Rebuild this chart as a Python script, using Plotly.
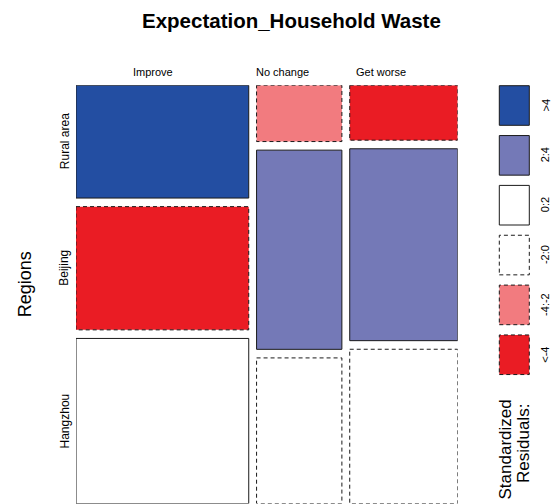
import numpy as np
import plotly.graph_objects as go

# Contingency table: expectation about household waste by region
regions = ["Rural area", "Beijing", "Hangzhou"]
expectations = ["Improve", "No change", "Get worse"]
rural_counts = [345, 85, 105]
beijing_counts = [377, 301, 367]
hangzhou_counts = [505, 220, 295]

legend_labels = [">4", "2:4", "0:2", "-2:0", "-4:-2", "<-4"]

W, H = 555, 504
FONT = "Liberation Sans, Arial, sans-serif"

table = np.array([rural_counts, beijing_counts, hangzhou_counts], dtype=float)
n_total = table.sum()
row_tot = table.sum(axis=1)
col_tot = table.sum(axis=0)
expected = np.outer(row_tot, col_tot) / n_total
resid = (table - expected) / np.sqrt(expected)  # Pearson residuals

# shading classes, ordered as in the legend (>4 ... <-4)
fills = ["#234EA2", "#7479B7", "#FFFFFF", "#FFFFFF", "#F27B7F", "#EA1C24"]
dashes = ["solid", "solid", "solid", "4px,3px", "4px,3px", "4px,3px"]


def shade_class(r):
    if r > 4:
        return 0
    if r > 2:
        return 1
    if r >= 0:
        return 2
    if r > -2:
        return 3
    if r > -4:
        return 4
    return 5


gap = 0.0214  # spacing between tiles, in units of the full extent
x_span = 1 + gap * (len(expectations) - 1)
y_span = 1 + gap * (len(regions) - 1)

# plot region in pixels
px_left, px_right = 76, 457.7
px_top, px_bottom = 85.3, 503.5

fig = go.Figure()
shapes = []
annotations = []

col_share = col_tot / n_total
x_start = np.concatenate([[0], np.cumsum(col_share)[:-1]]) + gap * np.arange(len(expectations))
for j in range(len(expectations)):
    x0 = x_start[j]
    x1 = x0 + col_share[j]
    row_share = table[:, j] / col_tot[j]
    y_start = np.concatenate([[0], np.cumsum(row_share)[:-1]]) + gap * np.arange(len(regions))
    for i in range(len(regions)):
        y0 = y_start[i]
        y1 = y0 + row_share[i]
        k = shade_class(resid[i, j])
        shapes.append(dict(
            type="rect", xref="x", yref="y", x0=x0, x1=x1, y0=y0, y1=y1,
            fillcolor=fills[k], line=dict(color="#1a1a1a", width=1, dash=dashes[k]),
            layer="above",
        ))

# invisible trace so the axes exist
fig.add_trace(go.Scatter(x=[0, x_span], y=[0, y_span], mode="markers",
                         marker=dict(opacity=0), hoverinfo="skip", showlegend=False))

# column labels along the top
col_label_shift = [-9, -17, -23]
for j, name in enumerate(expectations):
    xc = x_start[j] + col_share[j] / 2
    annotations.append(dict(
        x=xc, xref="x", y=(H - 71.5) / H, yref="paper", text=name, showarrow=False,
        xshift=col_label_shift[j], font=dict(family=FONT, size=11, color="#000000"),
        xanchor="center", yanchor="middle",
    ))

# row labels on the left, from the first column's tiles
row_share0 = table[:, 0] / col_tot[0]
y_start0 = np.concatenate([[0], np.cumsum(row_share0)[:-1]]) + gap * np.arange(len(regions))
for i, name in enumerate(regions):
    yc = y_start0[i] + row_share0[i] / 2
    annotations.append(dict(
        x=64.5 / W, xref="paper", y=yc, yref="y", text=name, showarrow=False,
        textangle=-90, font=dict(family=FONT, size=12, color="#000000"),
        xanchor="center", yanchor="middle",
    ))

# axis title
annotations.append(dict(
    x=25 / W, xref="paper", y=(H - 284.2) / H, yref="paper", text="Regions",
    showarrow=False, textangle=-90, font=dict(family=FONT, size=18, color="#000000"),
    xanchor="center", yanchor="middle",
))

# main title
annotations.append(dict(
    x=291.7 / W, xref="paper", y=(H - 20.7) / H, yref="paper",
    text="<b>Expectation_Household Waste</b>", showarrow=False,
    font=dict(family=FONT, size=20.5, color="#000000"), xanchor="center", yanchor="middle",
))

# shading legend
box_left, box_right = 499.3, 529.3
box_top0, box_pitch, box_h = 85.7, 49.85, 39.6
for k, lab in enumerate(legend_labels):
    t = box_top0 + k * box_pitch
    b = t + box_h
    shapes.append(dict(
        type="rect", xref="paper", yref="paper",
        x0=box_left / W, x1=box_right / W, y0=(H - b) / H, y1=(H - t) / H,
        fillcolor=fills[k], line=dict(color="#1a1a1a", width=1, dash=dashes[k]),
    ))
    annotations.append(dict(
        x=545 / W, xref="paper", y=(H - (t + b) / 2) / H, yref="paper", text=lab,
        showarrow=False, textangle=-90, font=dict(family=FONT, size=11, color="#000000"),
        xanchor="center", yanchor="middle",
    ))

annotations.append(dict(
    x=504.5 / W, xref="paper", y=(H - 398) / H, yref="paper", text="Standardized",
    showarrow=False, textangle=-90, font=dict(family=FONT, size=17, color="#000000"),
    xanchor="center", yanchor="top",
))
annotations.append(dict(
    x=523.5 / W, xref="paper", y=(H - 402) / H, yref="paper", text="Residuals:",
    showarrow=False, textangle=-90, font=dict(family=FONT, size=17, color="#000000"),
    xanchor="center", yanchor="top",
))

fig.update_layout(
    width=W, height=H, margin=dict(l=0, r=0, t=0, b=0),
    paper_bgcolor="#FFFFFF", plot_bgcolor="#FFFFFF",
    shapes=shapes, annotations=annotations, showlegend=False,
    xaxis=dict(domain=[px_left / W, px_right / W], range=[0, x_span], visible=False, fixedrange=True),
    yaxis=dict(domain=[(H - px_bottom) / H, (H - px_top) / H], range=[y_span, 0], visible=False, fixedrange=True),
)

fig.write_html("out.html", config=dict(displayModeBar=False))
